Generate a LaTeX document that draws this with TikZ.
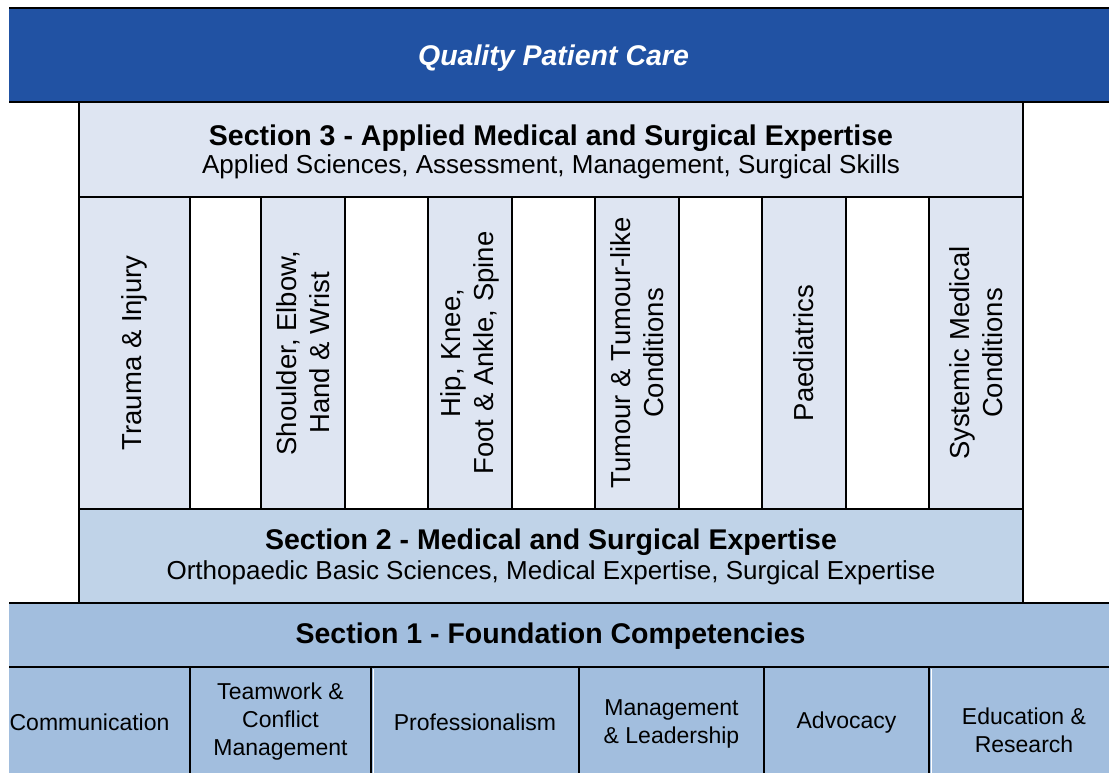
\documentclass[tikz,border=0pt]{standalone}
\usepackage{fontspec}
\setmainfont{Liberation Sans}
\definecolor{bandblue}{RGB}{33,82,163}
\definecolor{paleblue}{RGB}{222,229,242}
\definecolor{midblue}{RGB}{192,211,232}
\definecolor{deepblue}{RGB}{162,190,222}
\begin{document}
\begin{tikzpicture}[x=1pt,y=-1pt,
  box/.style={rectangle, draw=black, line width=2.5pt, inner sep=0pt, outer sep=0pt},
  shaded/.style={box, fill=paleblue},
  blank/.style={box, fill=white},
  column/.style={rotate=90, minimum width=312pt, align=center,
    font=\fontsize{27.5}{33}\selectfont},
  cell/.style={box, fill=deepblue, minimum height=110pt, align=center,
    font=\fontsize{23}{28}\selectfont},
  celltext/.style={align=center, inner sep=0pt, font=\fontsize{23}{28}\selectfont},
  heading/.style={anchor=base, inner sep=0pt, font=\bfseries\fontsize{28.5}{34}\selectfont},
  subline/.style={anchor=base, inner sep=0pt, font=\fontsize{26}{31}\selectfont},
  sliver/.style={draw=white, line width=1.2pt}]
\useasboundingbox (0,0) rectangle (1109,773);
\begin{scope}
\clip (9,0) rectangle (1109,773);

% top band
\node[box, fill=bandblue, minimum width=1135pt, minimum height=94pt] (band) at (553.5,55) {};
\node[heading, text=white, font=\bfseries\itshape\fontsize{28.5}{34}\selectfont] (title) at (553.5,66) {Quality Patient Care};

% section 3 with its columns
\node[shaded, minimum width=944pt, minimum height=95pt] (s3) at (551,149.5) {};
\node[heading] (s3h) at (551,145.5) {Section 3 - Applied Medical and Surgical Expertise};
\node[subline] (s3s) at (551,173.2) {Applied Sciences, Assessment, Management, Surgical Skills};

\node[shaded, column, minimum height=111pt] (c1) at (134.5,353) {Trauma \& Injury};
\node[blank,  column, minimum height=71pt]  (g1) at (225.5,353) {};
\node[shaded, column, minimum height=84pt]  (c2) at (303,353) {Shoulder, Elbow,\\Hand \& Wrist};
\node[blank,  column, minimum height=83pt]  (g2) at (386.5,353) {};
\node[shaded, column, minimum height=84pt]  (c3) at (470,353) {Hip, Knee,\\Foot \& Ankle, Spine};
\node[blank,  column, minimum height=83pt]  (g3) at (553.5,353) {};
\node[shaded, column, minimum height=84pt]  (c4) at (637,353) {Tumour \& Tumour-like\\Conditions};
\node[blank,  column, minimum height=83pt]  (g4) at (720.5,353) {};
\node[shaded, column, minimum height=84pt]  (c5) at (804,353) {Paediatrics};
\node[blank,  column, minimum height=83pt]  (g5) at (887.5,353) {};
\node[shaded, column, minimum height=94pt]  (c6) at (976,353) {Systemic Medical\\Conditions};

% section 2
\node[box, fill=midblue, minimum width=944pt, minimum height=94pt] (s2) at (551,556) {};
\node[heading] (s2h) at (551,549.8) {Section 2 - Medical and Surgical Expertise};
\node[subline] (s2s) at (551,579.8) {Orthopaedic Basic Sciences, Medical Expertise, Surgical Expertise};

% section 1 and its competencies
\node[box, fill=deepblue, minimum width=1150pt, minimum height=64pt] (s1) at (550.5,635) {};
\node[heading] (s1h) at (550.5,643.2) {Section 1 - Foundation Competencies};

\node[cell, minimum width=201pt] (comm) at (89.5,722)  {Communication};
\node[cell, minimum width=181pt] (team) at (280.5,722) {Teamwork \&\\Conflict\\Management};
\node[cell, minimum width=208pt] (prof) at (475,722)   {Professionalism};
\node[cell, minimum width=185pt] (mgmt) at (671.5,722) {};
\node[celltext] (mgmtt) at (671.5,723.5) {Management\\\& Leadership};
\node[cell, minimum width=165pt] (advo) at (846.5,722) {};
\node[celltext] (advot) at (846.5,723) {Advocacy};
\node[cell, minimum width=190pt] (educ) at (1024,722)  {};
\node[celltext] (educt) at (1024,730) {Education \&\\Research};

% thin light seams beside two of the cell borders
\draw[sliver] ([xshift=2.2pt,yshift=-2pt]prof.north west) -- ([xshift=2.2pt]prof.south west);
\draw[sliver] ([xshift=2.2pt,yshift=-2pt]educ.north west) -- ([xshift=2.2pt]educ.south west);
\end{scope}
\end{tikzpicture}
\end{document}
